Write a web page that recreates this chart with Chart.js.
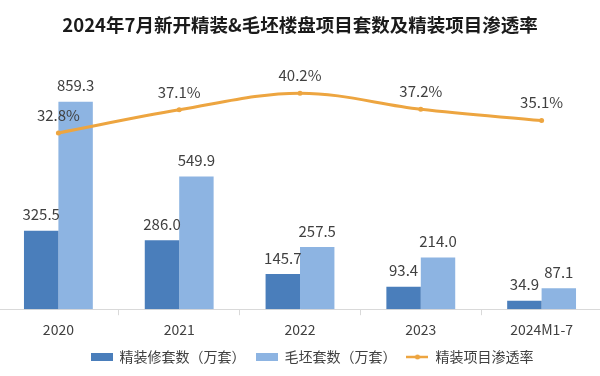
<!DOCTYPE html>
<html>
<head>
<meta charset="utf-8">
<script src="https://cdn.jsdelivr.net/npm/chart.js@4/dist/chart.umd.min.js"></script>
<style>
html, body { margin: 0; padding: 0; background: #fff; overflow: hidden; }
#wrap { position: absolute; left: -6px; top: 0; width: 612px; height: 376px; }
</style>
</head>
<body>
<div id="wrap"><canvas id="chart" width="612" height="376" style="width:612px;height:376px"></canvas></div>
<script>
const categories = ['2020', '2021', '2022', '2023', '2024M1-7'];
const fitOutCounts = [325.5, 286.0, 145.7, 93.4, 34.9];
const roughCounts = [859.3, 549.9, 257.5, 214.0, 87.1];
const fitOutRate = [32.8, 37.1, 40.2, 37.2, 35.1];
const seriesNames = ['精装修套数（万套）', '毛坯套数（万套）', '精装项目渗透率'];
const chartTitle = '2024年7月新开精装&毛坯楼盘项目套数及精装项目渗透率';

const darkBlue = '#4a7ebb';
const lightBlue = '#8db4e2';
const orange = '#eda540';
const fontFamily = '"Noto Sans CJK SC", "Noto Sans", sans-serif';

Chart.defaults.font.family = fontFamily;

// little pictures for the legend keys
function makeKey(kind, color) {
    const c = document.createElement('canvas');
    c.width = 22;
    c.height = 8;
    const g = c.getContext('2d');
    if (kind === 'bar') {
        g.fillStyle = color;
        g.fillRect(0, 0, 22, 8);
    } else {
        g.strokeStyle = color;
        g.lineWidth = 2.5;
        g.beginPath();
        g.moveTo(0, 4);
        g.lineTo(22, 4);
        g.stroke();
        g.fillStyle = color;
        g.beginPath();
        g.arc(11, 4, 2.5, 0, Math.PI * 2);
        g.fill();
    }
    return c;
}
const keys = [makeKey('bar', darkBlue), makeKey('bar', lightBlue), makeKey('line', orange)];

const valueLabels = {
    id: 'valueLabels',
    afterDatasetsDraw(chart) {
        const ctx = chart.ctx;
        ctx.save();
        ctx.font = '15px ' + fontFamily;
        ctx.fillStyle = '#404040';
        ctx.textAlign = 'center';
        ctx.textBaseline = 'middle';
        chart.data.datasets.forEach((ds, i) => {
            const meta = chart.getDatasetMeta(i);
            const isLine = ds.type === 'line';
            meta.data.forEach((el, j) => {
                const v = ds.data[j];
                const text = isLine ? v.toFixed(1) + '%' : v.toFixed(1);
                ctx.fillText(text, el.x, el.y - (isLine ? 18 : 16));
            });
        });
        ctx.restore();
    }
};

// the legend sits a bit right of centre in the original
const legendShift = {
    id: 'legendShift',
    afterUpdate(chart) {
        chart.legend.left += 12;
        chart.legend.right += 12;
    }
};

const ctx = document.getElementById('chart').getContext('2d');
new Chart(ctx, {
    data: {
        labels: categories,
        datasets: [
            {
                type: 'bar',
                label: seriesNames[0],
                data: fitOutCounts,
                backgroundColor: darkBlue,
                yAxisID: 'y',
                order: 2,
                categoryPercentage: 0.57,
                barPercentage: 1.0
            },
            {
                type: 'bar',
                label: seriesNames[1],
                data: roughCounts,
                backgroundColor: lightBlue,
                yAxisID: 'y',
                order: 3,
                categoryPercentage: 0.57,
                barPercentage: 1.0
            },
            {
                type: 'line',
                label: seriesNames[2],
                data: fitOutRate,
                borderColor: orange,
                backgroundColor: orange,
                borderWidth: 3,
                pointRadius: 2.5,
                pointBorderWidth: 0,
                tension: 0.35,
                fill: false,
                yAxisID: 'y2',
                order: 1
            }
        ]
    },
    options: {
        responsive: false,
        animation: false,
        layout: { padding: { left: 0, right: 0, top: 0, bottom: 2 } },
        plugins: {
            title: {
                display: true,
                text: chartTitle,
                color: '#1a1a1a',
                font: { size: 18.5, weight: 'bold' },
                padding: { top: 14, bottom: 14 }
            },
            legend: {
                position: 'bottom',
                labels: {
                    color: '#404040',
                    font: { size: 14 },
                    usePointStyle: true,
                    pointStyleWidth: 22,
                    padding: 10,
                    generateLabels: () => seriesNames.map((name, i) => ({
                        text: name,
                        pointStyle: keys[i],
                        fillStyle: 'transparent',
                        strokeStyle: 'transparent',
                        lineWidth: 0,
                        fontColor: '#404040',
                        datasetIndex: i
                    }))
                }
            },
            tooltip: { enabled: false }
        },
        scales: {
            x: {
                grid: {
                    drawOnChartArea: false,
                    drawTicks: true,
                    tickLength: 6,
                    color: '#d9d9d9'
                },
                border: { color: '#d9d9d9' },
                ticks: {
                    color: '#404040',
                    font: { size: 14 },
                    padding: 6
                },
                afterFit(scale) {
                    scale.height -= 4;
                }
            },
            y: {
                display: false,
                min: 0,
                max: 1073
            },
            y2: {
                display: false,
                min: 0,
                max: 48.2
            }
        }
    },
    plugins: [valueLabels, legendShift]
});
</script>
</body>
</html>
